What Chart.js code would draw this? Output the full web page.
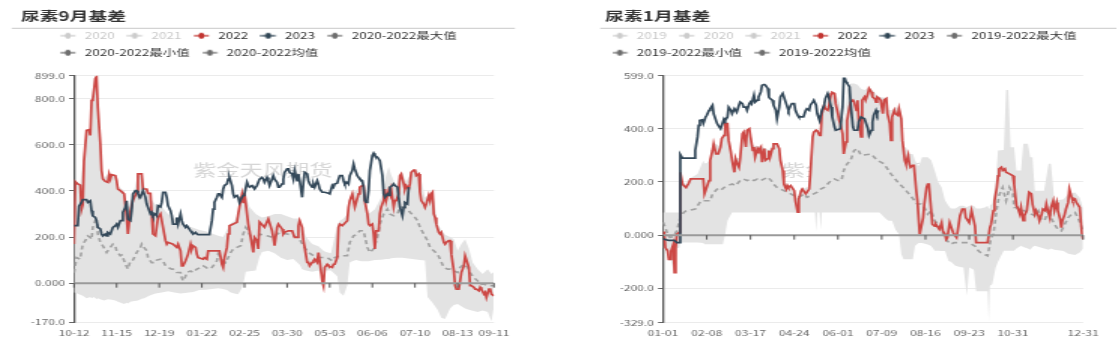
<!DOCTYPE html>
<html><head><meta charset="utf-8">
<script src="https://cdn.jsdelivr.net/npm/chart.js@4.4.0/dist/chart.umd.min.js"></script>
<style>
html,body{margin:0;padding:0;background:#fff;width:1119px;height:358px;overflow:hidden;}
.wrap{position:absolute;top:0;height:358px;transform-origin:0 0;transform:scaleX(1.5);}
#w1{left:0;width:373.33px;}
#w2{left:560px;width:372.67px;}
canvas{display:block;}
</style></head><body>
<div class="wrap" id="w1"><canvas id="c1"></canvas></div>
<div class="wrap" id="w2"><canvas id="c2"></canvas></div>
<script>
const FAM = "'Noto Sans CJK SC', 'Noto Sans', sans-serif";

// ===== Left chart: 尿素9月基差 (x = day index from 10-12) =====
const sepXTicks = [0,34,68,102,136,170,204,238,272,306,335];
const sepXLabels = ['10-12','11-15','12-19','01-22','02-25','03-30','05-03','06-06','07-10','08-13','09-11'];
const sepYTicks = [-170,0,200,400,600,800,899];
const sepYLabels = ['-170.0','0.000','200.0','400.0','600.0','800.0','899.0'];
const sepNames = ['2020','2021','2022','2023','2020-2022最大值','2020-2022最小值','2020-2022均值'];

const sep2022 = [[0,170],[1,440],[3,430],[5,425],[6,320],[7,340],[8,530],[10,662],[12,665],[13,640],[14,792],[15,795],[17,886],[18,895],[19,763],[21,604],[22,488],[23,452],[25,441],[27,437],[28,472],[29,452],[30,470],[33,466],[34,444],[35,408],[37,401],[40,387],[42,285],[43,213],[45,313],[47,358],[50,394],[51,474],[54,474],[55,408],[58,408],[59,389],[61,389],[62,300],[63,213],[65,205],[67,285],[69,300],[70,271],[71,242],[73,184],[74,169],[75,177],[79,169],[82,155],[83,169],[85,140],[86,75],[87,75],[89,97],[90,111],[91,126],[93,169],[94,148],[95,162],[97,155],[98,126],[99,111],[103,104],[104,111],[106,104],[107,140],[116,140],[118,82],[119,68],[120,111],[122,155],[123,213],[124,249],[127,256],[130,264],[131,300],[132,330],[134,385],[135,350],[136,390],[138,300],[139,256],[140,227],[143,133],[144,198],[146,184],[147,148],[148,265],[152,242],[155,278],[158,227],[159,198],[160,162],[162,242],[163,256],[166,235],[167,213],[168,220],[171,227],[174,227],[176,198],[178,198],[179,249],[180,271],[182,242],[183,184],[184,155],[186,90],[187,90],[188,75],[190,90],[191,97],[192,104],[194,90],[195,133],[196,97],[198,10],[199,-11],[200,68],[202,82],[203,75],[206,68],[207,82],[208,82],[210,111],[211,242],[212,256],[214,249],[218,271],[219,329],[220,358],[222,387],[224,330],[227,387],[228,416],[230,423],[231,423],[232,355],[234,300],[235,256],[236,249],[238,256],[239,213],[240,148],[241,227],[243,227],[244,300],[245,329],[247,358],[248,408],[249,358],[251,401],[252,387],[253,408],[255,330],[256,358],[257,358],[259,387],[260,466],[261,473],[263,430],[264,408],[265,423],[267,408],[268,430],[269,480],[271,490],[272,490],[273,466],[275,473],[276,394],[277,358],[279,343],[280,329],[281,343],[283,380],[284,358],[285,387],[286,394],[287,300],[288,285],[289,256],[291,220],[292,213],[293,220],[295,177],[296,169],[297,177],[299,184],[300,184],[301,126],[303,53],[304,-11],[305,-26],[307,-26],[308,10],[309,46],[311,75],[312,118],[313,118],[315,68],[316,-11],[317,-11],[319,-18],[320,-26],[321,-26],[323,-33],[324,-18],[325,-26],[327,-47],[328,-40],[329,-62],[331,-26],[332,-26],[333,-47],[335,-55]];

const sep2023 = [[0,249],[3,249],[4,334],[6,350],[7,362],[10,362],[11,350],[13,357],[14,314],[15,292],[17,285],[18,271],[19,242],[21,235],[22,213],[23,205],[25,213],[26,205],[27,220],[29,213],[30,227],[31,242],[33,249],[34,256],[35,242],[37,271],[38,271],[39,307],[41,329],[42,357],[43,278],[45,271],[46,314],[47,387],[49,401],[50,401],[51,387],[53,372],[54,387],[55,401],[57,372],[58,343],[59,329],[61,300],[62,307],[63,292],[65,300],[66,292],[67,336],[69,330],[70,350],[71,394],[73,394],[74,372],[75,336],[77,314],[78,292],[79,256],[81,256],[82,285],[83,256],[85,300],[86,271],[87,256],[89,242],[90,249],[91,242],[93,227],[94,220],[95,213],[97,220],[98,213],[99,210],[108,210],[110,271],[111,321],[112,350],[114,372],[115,387],[116,387],[118,372],[119,408],[120,423],[122,430],[123,451],[124,458],[126,423],[127,387],[128,372],[130,380],[131,372],[132,350],[134,372],[135,380],[136,387],[138,437],[139,423],[140,416],[142,423],[143,416],[144,408],[146,423],[147,437],[148,451],[150,458],[151,451],[152,437],[154,458],[155,444],[156,423],[158,451],[159,466],[160,451],[162,437],[163,416],[164,416],[166,430],[167,451],[168,480],[170,495],[171,495],[172,480],[174,473],[175,451],[176,488],[178,444],[179,473],[180,444],[182,372],[183,437],[184,480],[186,473],[187,444],[188,430],[190,416],[191,430],[192,416],[194,444],[195,430],[196,408],[198,394],[200,394],[203,390],[204,387],[206,423],[207,416],[208,430],[210,433],[211,451],[212,466],[214,466],[215,444],[216,430],[218,437],[219,430],[220,466],[222,488],[223,516],[224,495],[226,466],[227,458],[228,451],[230,444],[231,416],[232,358],[233,350],[234,358],[235,401],[236,488],[238,553],[239,563],[240,553],[242,546],[243,539],[244,531],[246,466],[247,387],[248,372],[250,387],[251,380],[252,416],[254,423],[255,430],[256,423],[258,416],[259,372],[260,330],[262,292],[263,329],[264,350],[266,343],[267,416]];

const sepBandDays = [0,1,5,7,10,13,14,16,18,19,21,22,24,27,30,33,35,40,42,43,45,47,51,54,56,60,62,65,70,75,80,85,90,95,100,105,110,115,119,122,125,128,131,134,136,137,140,145,148,150,155,160,165,170,175,180,182,185,190,195,197,199,201,205,210,212,215,218,220,222,225,229,232,235,240,245,249,251,253,257,260,262,265,270,273,276,280,282,286,288,290,293,296,300,303,306,309,312,315,318,322,326,330,333,335];
const sepBandMax = [180,445,430,530,665,660,795,890,897,765,605,490,455,472,470,466,420,400,350,330,350,380,474,474,420,395,360,340,330,300,280,270,250,240,230,225,215,205,200,230,260,270,300,390,392,380,330,300,290,285,290,300,300,290,280,280,250,200,170,160,150,140,135,130,250,270,280,300,370,390,400,425,400,300,320,370,470,505,470,420,470,476,440,492,492,475,370,380,398,330,260,230,210,200,190,140,170,190,150,90,60,40,60,40,50];
const sepBandMin = [-40,-42,-50,-55,-65,-60,-65,-60,-70,-65,-70,-72,-75,-70,-72,-75,-80,-90,-85,-88,-80,-78,-75,-68,-65,-55,-50,-45,-40,-35,-40,-45,-42,-38,-30,-28,-25,-22,-25,-30,-40,-45,-48,-20,20,50,52,55,115,135,140,130,110,100,105,80,60,55,50,55,40,-15,55,55,30,-40,-55,-10,90,95,100,95,95,95,100,102,105,105,108,110,110,110,108,105,103,100,98,-60,-85,-100,-115,-150,-155,-110,-95,-90,-100,-110,-115,-120,-125,-118,-125,-165,-100];

const sepAvg = [[0,45],[2,111],[5,104],[6,140],[7,169],[9,184],[11,205],[13,198],[14,190],[15,242],[17,271],[18,271],[19,213],[21,177],[23,162],[26,133],[29,155],[31,169],[33,160],[34,140],[37,119],[38,122],[39,111],[41,82],[43,61],[45,97],[46,97],[47,100],[50,133],[53,155],[54,169],[55,160],[58,140],[59,111],[62,89],[65,89],[66,100],[69,104],[71,97],[73,75],[75,68],[78,61],[79,61],[82,46],[85,46],[86,24],[87,10],[89,30],[90,46],[93,53],[95,46],[98,61],[101,68],[103,75],[105,70],[107,61],[110,68],[111,75],[114,97],[115,126],[118,104],[121,89],[122,100],[125,133],[127,148],[130,155],[133,162],[135,213],[137,242],[139,227],[142,184],[145,169],[147,198],[148,213],[154,205],[159,198],[164,220],[170,213],[175,205],[179,198],[183,162],[187,133],[191,119],[196,111],[202,111],[206,97],[208,111],[212,119],[215,119],[218,119],[220,177],[223,205],[226,213],[228,227],[231,227],[234,155],[236,133],[239,148],[242,198],[244,256],[247,300],[250,321],[252,300],[255,292],[258,300],[260,329],[263,329],[266,321],[268,307],[271,292],[274,271],[276,242],[279,213],[282,184],[284,155],[287,140],[290,126],[292,104],[295,68],[298,61],[300,61],[303,53],[306,46],[308,68],[311,82],[314,68],[316,46],[319,24],[322,10],[324,-4],[327,-4],[330,-11],[332,-11],[335,-11]];

// ===== Right chart: 尿素1月基差 (x = day index from 01-01) =====
const janXTicks = [0,38,76,114,152,190,228,266,304,365];
const janXLabels = ['01-01','02-08','03-17','04-24','06-01','07-09','08-16','09-23','10-31','12-31'];
const janYTicks = [-329,-200,0,200,400,599];
const janYLabels = ['-329.0','-200.0','0.000','200.0','400.0','599.0'];
const janNames = ['2019','2020','2021','2022','2023','2019-2022最大值','2019-2022最小值','2019-2022均值'];

const jan2022 = [[0,10],[1,10],[2,-47],[4,-59],[5,-91],[6,-91],[7,-60],[9,-34],[10,-141],[11,-47],[12,3],[14,10],[15,236],[17,192],[18,186],[20,179],[21,186],[22,192],[24,211],[35,211],[36,155],[38,180],[40,205],[41,281],[43,318],[44,343],[46,305],[48,305],[50,331],[51,362],[53,375],[54,419],[56,419],[57,356],[59,312],[60,281],[62,236],[63,287],[64,274],[66,255],[67,287],[69,381],[70,387],[72,331],[73,394],[75,400],[76,369],[78,318],[79,331],[80,293],[82,325],[83,318],[85,331],[86,274],[88,325],[89,281],[91,287],[92,318],[93,293],[95,325],[96,343],[99,343],[101,325],[102,281],[104,243],[105,192],[107,173],[108,186],[109,179],[111,186],[112,179],[114,167],[115,129],[117,86],[118,135],[120,167],[121,173],[122,173],[124,155],[127,173],[128,230],[130,369],[131,387],[133,394],[134,392],[136,375],[137,375],[138,456],[140,488],[141,475],[143,469],[144,481],[146,532],[147,536],[149,532],[150,494],[152,456],[153,431],[154,419],[156,381],[157,305],[159,350],[160,431],[162,481],[163,500],[165,507],[166,500],[168,469],[169,507],[170,431],[172,369],[173,507],[175,519],[176,507],[178,532],[179,551],[181,538],[182,519],[184,513],[185,500],[186,519],[188,513],[189,507],[191,456],[192,507],[194,513],[195,456],[197,419],[198,356],[199,444],[201,469],[202,456],[204,450],[205,475],[207,437],[208,356],[210,281],[211,268],[213,300],[214,268],[215,255],[217,262],[218,262],[220,167],[221,129],[223,3],[224,3],[226,66],[227,117],[229,180],[230,192],[231,192],[233,92],[234,41],[236,34],[237,41],[239,28],[240,22],[242,47],[243,16],[245,3],[246,-16],[247,-10],[249,47],[250,47],[252,10],[253,3],[255,-9],[256,16],[258,73],[259,85],[260,98],[262,98],[263,66],[266,47],[268,92],[269,73],[271,34],[272,-28],[282,-28],[284,28],[285,41],[287,92],[288,129],[290,179],[291,223],[292,249],[294,255],[295,243],[297,249],[298,236],[301,230],[304,223],[305,192],[307,111],[308,104],[310,79],[311,104],[313,54],[314,73],[316,92],[318,161],[320,155],[321,116],[323,79],[324,92],[326,73],[327,54],[329,79],[330,98],[332,92],[333,117],[334,98],[336,66],[337,104],[339,129],[340,92],[342,123],[343,92],[345,60],[346,28],[347,54],[349,79],[350,98],[352,123],[353,173],[355,142],[356,129],[358,135],[359,123],[361,111],[362,104],[363,54],[364,3],[365,-16]];

const jan2023 = [[0,-14],[5,-20],[10,-20],[12,-28],[14,-28],[15,303],[17,289],[27,289],[28,318],[30,369],[31,412],[32,431],[34,433],[35,419],[37,444],[38,450],[40,469],[41,475],[43,488],[44,456],[46,431],[47,419],[48,412],[50,400],[51,412],[53,437],[54,431],[56,444],[57,481],[59,469],[60,456],[62,475],[63,469],[64,462],[66,488],[67,500],[69,494],[70,481],[72,481],[73,469],[75,494],[76,500],[77,494],[79,526],[80,500],[82,507],[83,519],[85,538],[86,563],[88,566],[89,563],[91,551],[92,519],[93,513],[95,507],[96,488],[98,469],[99,437],[101,481],[102,519],[104,532],[105,532],[107,494],[108,481],[109,469],[111,488],[112,494],[114,494],[115,469],[117,450],[118,444],[122,444],[124,469],[125,475],[127,469],[128,488],[130,500],[131,507],[133,488],[134,456],[136,431],[137,450],[138,469],[140,488],[141,513],[143,532],[144,519],[146,481],[147,444],[149,406],[150,394],[154,400],[156,481],[157,589],[158,589],[159,576],[160,570],[162,557],[163,494],[165,406],[166,394],[169,394],[170,425],[172,444],[175,437],[176,425],[178,400],[179,375],[181,394],[182,425],[183,450],[185,469],[186,456],[187,469]];

const janBandDays = [0,3,5,7,10,12,14,15,17,20,24,30,35,36,38,41,43,45,49,52,54,56,58,60,62,63,66,69,70,72,73,75,78,80,84,86,88,92,96,100,103,105,108,113,116,118,120,126,128,130,132,133,134,136,137,138,140,143,146,148,150,153,156,158,160,163,166,169,172,175,179,182,185,188,194,196,199,202,205,207,209,211,214,217,219,222,225,230,233,236,239,242,245,248,250,254,258,261,264,266,270,272,276,280,282,283,284,286,289,291,296,298,300,302,305,307,311,313,317,319,321,323,331,335,337,340,348,352,358,362,365];
const janBandMax = [85,85,85,85,85,85,85,240,200,192,215,230,280,270,270,285,345,345,335,380,420,420,360,285,240,290,290,385,390,340,396,402,340,335,335,330,328,320,345,345,280,200,190,180,140,140,175,180,240,372,400,398,395,380,380,460,490,485,536,540,532,500,450,430,545,570,570,565,550,545,555,545,530,520,515,470,470,480,478,460,330,330,305,305,280,255,293,293,281,243,200,180,130,110,100,100,110,110,105,110,110,100,100,105,110,100,110,120,200,318,320,545,545,330,330,243,243,343,343,293,293,167,167,268,268,129,135,155,160,140,100];
const janBandMin = [-47,-60,-95,-95,-145,-50,-47,-28,-28,-28,-28,-28,-30,-34,-34,-34,-34,-34,-34,-34,3,54,70,85,85,85,85,85,85,85,85,85,85,85,85,85,85,85,85,85,85,85,85,85,84,85,85,85,85,85,85,14,85,85,20,85,85,85,85,85,85,85,85,85,85,85,85,85,85,85,85,85,85,85,60,54,54,20,3,-72,-91,-91,-91,-91,-40,-30,-30,-35,-41,-59,-59,-60,-60,-97,-100,-115,-120,-122,-229,-122,-130,-211,-211,-211,-211,-324,-190,-185,-122,-100,-59,-59,-59,-59,-59,-50,-40,-45,-50,-55,-45,-40,-50,-55,-50,-55,-60,-70,-75,-65,-50];

const janAvg = [[0,48],[2,29],[4,3],[6,-9],[9,-5],[12,16],[15,66],[18,85],[20,91],[28,98],[33,129],[41,129],[43,155],[47,173],[50,167],[53,179],[56,186],[60,192],[63,186],[67,205],[70,211],[73,205],[76,211],[79,205],[82,211],[85,205],[88,211],[91,218],[94,205],[96,192],[99,179],[102,173],[105,167],[108,161],[111,155],[114,148],[117,142],[120,148],[123,155],[125,142],[128,148],[131,155],[134,161],[137,173],[140,179],[143,192],[146,205],[149,211],[152,205],[155,205],[157,243],[160,268],[163,281],[166,318],[169,325],[172,300],[181,305],[186,281],[192,268],[198,230],[204,199],[210,173],[215,148],[221,117],[224,117],[227,104],[230,79],[233,92],[236,54],[239,41],[242,16],[245,-9],[247,-22],[250,-34],[253,-28],[262,-28],[265,-28],[268,-34],[271,-41],[274,-59],[276,-66],[279,-72],[282,-78],[285,-9],[287,3],[290,100],[292,150],[295,179],[298,129],[301,179],[304,155],[305,104],[307,104],[310,92],[314,92],[317,85],[320,79],[323,73],[326,92],[329,54],[332,60],[335,98],[337,66],[340,41],[343,22],[346,16],[349,41],[352,66],[355,79],[358,85],[361,60],[364,28],[365,16]];

// ===== helpers =====
const toXY = arr => arr.map(p => ({x: p[0], y: p[1]}));
const bandXY = (days, vals) => days.map((d, i) => ({x: d, y: vals[i]}));
const BOXW = 12;

function makeIcon(color) {
  const c = document.createElement('canvas');
  c.width = BOXW; c.height = 8;
  const g = c.getContext('2d');
  g.strokeStyle = color; g.lineWidth = 1.3;
  g.beginPath(); g.moveTo(0.3, 4); g.lineTo(10.3, 4); g.stroke();
  g.fillStyle = color;
  g.beginPath(); g.ellipse(5.3, 4, 1.95, 2.9, 0, 0, Math.PI * 2); g.fill();
  return c;
}

const deco = {
  id: 'deco',
  afterLayout(chart, args, o) {
    if (o.legendShift && chart.legend) {
      chart.legend.left += o.legendShift;
      chart.legend.right += o.legendShift;
    }
  },
  beforeDraw(chart, args, o) {
    const ctx = chart.ctx;
    ctx.save();
    ctx.font = 'bold 12.5px ' + FAM;
    ctx.fillStyle = '#333';
    ctx.textBaseline = 'middle';
    ctx.textAlign = 'left';
    ctx.fillText(o.title, o.titleX, o.titleY);
    ctx.strokeStyle = '#c8c8c8';
    ctx.lineWidth = 1;
    ctx.beginPath(); ctx.moveTo(o.lineX1, o.lineY); ctx.lineTo(o.lineX2, o.lineY); ctx.stroke();
    ctx.restore();
  },
  beforeDatasetsDraw(chart, args, o) {
    const ctx = chart.ctx;
    ctx.save();
    ctx.font = '15.5px ' + FAM;
    ctx.fillStyle = '#d6d6d6';
    ctx.textAlign = 'center';
    ctx.textBaseline = 'middle';
    ctx.fillText('紫金天风期货', o.wmX, o.wmY);
    ctx.restore();
  },
  afterDatasetsDraw(chart, args, o) {
    const ctx = chart.ctx, xs = chart.scales.x, ys = chart.scales.y, a = chart.chartArea;
    const y0 = ys.getPixelForValue(0);
    ctx.save();
    ctx.strokeStyle = '#9a9a9a';
    ctx.lineWidth = 2;
    ctx.beginPath(); ctx.moveTo(a.left, y0); ctx.lineTo(a.right, y0); ctx.stroke();
    ctx.strokeStyle = '#555';
    ctx.lineWidth = 1;
    o.ticks.forEach(v => {
      const x = xs.getPixelForValue(v);
      ctx.beginPath(); ctx.moveTo(x, y0); ctx.lineTo(x, y0 + 4.5); ctx.stroke();
    });
    ctx.restore();
  }
};

function build(id, P) {
  const ds = [];
  const n = P.names.length;
  for (let i = 0; i < n - 5; i++) {
    ds.push({label: P.names[i], data: [], hidden: true, borderColor: '#ccc', pointRadius: 0, legendColor: '#cccccc', legendOff: true});
  }
  ds.push({label: P.names[n - 5], data: toXY(P.s22), borderColor: '#cd4845', borderWidth: 1.7, pointRadius: 0, tension: 0, legendColor: '#c23531', order: 1});
  ds.push({label: P.names[n - 4], data: toXY(P.s23), borderColor: '#34495a', borderWidth: 1.7, pointRadius: 0, tension: 0, legendColor: '#2f4554', order: 0});
  ds.push({label: P.names[n - 3], data: bandXY(P.bandDays, P.bandMax), borderColor: 'rgba(0,0,0,0)', borderWidth: 0, backgroundColor: '#e3e3e3', fill: '+1', pointRadius: 0, legendColor: '#6e6e6e', order: 4});
  ds.push({label: P.names[n - 2], data: bandXY(P.bandDays, P.bandMin), borderColor: 'rgba(0,0,0,0)', borderWidth: 0, fill: false, pointRadius: 0, legendColor: '#6e6e6e', order: 3});
  ds.push({label: P.names[n - 1], data: toXY(P.avg), borderColor: '#a2a2a2', borderDash: [4, 3], borderWidth: 1.6, pointRadius: 0, tension: 0, legendColor: '#6e6e6e', order: 2});

  return new Chart(document.getElementById(id), {
    type: 'line',
    data: {datasets: ds},
    plugins: [deco],
    options: {
      responsive: true, maintainAspectRatio: false, animation: false, events: [],
      layout: {padding: P.pad},
      plugins: {
        tooltip: {enabled: false},
        title: {display: false},
        subtitle: {display: true, text: '', weight: 500, position: 'top', font: {size: 1}, padding: {top: 0, bottom: P.spacer}},
        legend: {
          display: true, position: 'top', align: 'start',
          labels: {
            usePointStyle: true, pointStyleWidth: BOXW, padding: 8,
            font: {size: 9, family: FAM}, color: '#333',
            generateLabels: chart => chart.data.datasets.map((d, i) => ({
              text: d.label, fillStyle: d.legendColor, strokeStyle: d.legendColor, lineWidth: 0,
              pointStyle: makeIcon(d.legendColor), hidden: false,
              fontColor: d.legendOff ? '#c8c8c8' : '#333', datasetIndex: i
            }))
          },
          onClick: () => {}
        },
        deco: P.deco
      },
      scales: {
        x: {
          type: 'linear', min: 0, max: P.xMax,
          grid: {display: false, drawTicks: false},
          border: {display: false},
          ticks: {
            autoSkip: false, maxRotation: 0, minRotation: 0, padding: 5.5,
            font: {size: 8, family: FAM}, color: '#666',
            callback: v => { const i = P.xTicks.indexOf(v); return i >= 0 ? P.xLabels[i] : ''; }
          },
          afterBuildTicks: s => { s.ticks = P.xTicks.map(v => ({value: v})); },
          afterFit: s => { s.paddingLeft = 0; s.paddingRight = P.xPadRight; }
        },
        y: {
          type: 'linear', min: P.yMin, max: P.yMax,
          afterBuildTicks: s => { s.ticks = P.yTicks.map(v => ({value: v})); },
          afterFit: s => { s.width = P.yWidth; s.paddingTop = 0; s.paddingBottom = 0; },
          ticks: {
            padding: 2.7, font: {size: 8, family: FAM}, color: '#666',
            callback: v => { const i = P.yTicks.indexOf(v); return i >= 0 ? P.yLabels[i] : ''; }
          },
          grid: {
            color: c => (c.tick && c.tick.value === 0) ? 'rgba(0,0,0,0)' : '#ebebeb',
            lineWidth: 1, drawTicks: true, tickLength: 3.3, tickColor: '#666', tickWidth: 1
          },
          border: {display: true, color: '#555', width: 1.3}
        }
      }
    }
  });
}

Chart.defaults.font.family = FAM;

build('c1', {
  names: sepNames, s22: sep2022, s23: sep2023, avg: sepAvg,
  bandDays: sepBandDays, bandMax: sepBandMax, bandMin: sepBandMin,
  xTicks: sepXTicks, xLabels: sepXLabels, yTicks: sepYTicks, yLabels: sepYLabels,
  xMax: 335, yMin: -170, yMax: 899,
  pad: {left: 16, right: 20, top: 23.2, bottom: 15},
  spacer: 7.3, yWidth: 33.33, xPadRight: 44,
  deco: {title: '尿素9月基差', titleX: 14, titleY: 16.7, lineX1: 7.8, lineX2: 343.3, lineY: 28.3, wmX: 175.3, wmY: 170, ticks: sepXTicks, legendShift: 16}
});

build('c2', {
  names: janNames, s22: jan2022, s23: jan2023, avg: janAvg,
  bandDays: janBandDays, bandMax: janBandMax, bandMin: janBandMin,
  xTicks: janXTicks, xLabels: janXLabels, yTicks: janYTicks, yLabels: janYLabels,
  xMax: 365, yMin: -329, yMax: 599,
  pad: {left: 26.5, right: 0, top: 23.2, bottom: 14.7},
  spacer: 7.3, yWidth: 41.97, xPadRight: 24.87,
  deco: {title: '尿素1月基差', titleX: 30, titleY: 16.7, lineX1: 26.7, lineX2: 370, lineY: 28.3, wmX: 194, wmY: 170, ticks: janXTicks, legendShift: 0}
});
</script>
</body></html>
